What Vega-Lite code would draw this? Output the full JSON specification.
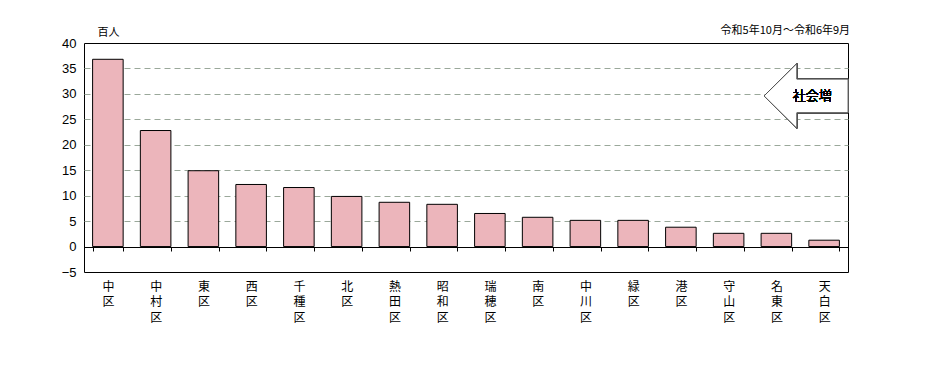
{
  "$schema": "https://vega.github.io/schema/vega-lite/v6.json",
  "autosize": {"type": "none"},
  "padding": {"left": 84, "top": 43, "right": 77, "bottom": 99},
  "width": 764,
  "height": 229,
  "background": "white",
  "config": {
    "view": {"stroke": "black", "strokeWidth": 1},
    "font": "Liberation Sans"
  },
  "title": {
    "text": "令和5年10月～令和6年9月",
    "anchor": "end",
    "font": "Noto Sans CJK JP",
    "fontSize": 11,
    "fontWeight": "normal",
    "color": "black",
    "offset": -10
  },
  "data": {
    "values": [
      {"ward": "中区", "value": 36.8},
      {"ward": "中村区", "value": 22.8},
      {"ward": "東区", "value": 14.9},
      {"ward": "西区", "value": 12.2},
      {"ward": "千種区", "value": 11.6},
      {"ward": "北区", "value": 9.85},
      {"ward": "熱田区", "value": 8.7},
      {"ward": "昭和区", "value": 8.3},
      {"ward": "瑞穂区", "value": 6.5},
      {"ward": "南区", "value": 5.75},
      {"ward": "中川区", "value": 5.15},
      {"ward": "緑区", "value": 5.15},
      {"ward": "港区", "value": 3.8},
      {"ward": "守山区", "value": 2.6},
      {"ward": "名東区", "value": 2.6},
      {"ward": "天白区", "value": 1.25}
    ]
  },
  "encoding": {
    "x": {
      "field": "ward",
      "type": "nominal",
      "sort": null,
      "scale": {"paddingInner": 0.36, "paddingOuter": 0.18},
      "axis": {
        "title": null,
        "orient": "bottom",
        "offset": -25,
        "domainColor": "black",
        "domainWidth": 1,
        "tickBand": "extent",
        "tickColor": "black",
        "tickSize": 4,
        "labelAngle": 0,
        "labelPadding": 30,
        "labelFont": "Noto Sans CJK JP",
        "labelFontSize": 12,
        "labelFontWeight": "normal",
        "labelLineHeight": 15.5,
        "labelColor": "black",
        "labelBaseline": "top",
        "labelExpr": "split(datum.label, '')"
      }
    }
  },
  "layer": [
    {
      "mark": {"type": "bar", "fill": "#ecb5bb", "stroke": "black", "strokeWidth": 1},
      "encoding": {
        "y": {
          "field": "value",
          "type": "quantitative",
          "scale": {"domain": [-5, 40], "nice": false},
          "axis": {
            "values": [-5, 0, 5, 10, 15, 20, 25, 30, 35, 40],
            "tickCount": 20,
            "labelOverlap": false,
            "labelFlush": false,
            "title": "百人",
            "titleAngle": 0,
            "titleFont": "Noto Sans CJK JP",
            "titleFontSize": 11,
            "titleFontWeight": "normal",
            "titleColor": "black",
            "titleAlign": "left",
            "titleBaseline": "middle",
            "titleX": 13,
            "titleY": -11,
            "domain": false,
            "ticks": false,
            "labelPadding": 8,
            "labelFontSize": 13,
            "labelColor": "black",
            "grid": true,
            "gridColor": "#9aa89a",
            "gridDash": [6, 4],
            "gridWidth": 1,
            "gridOpacity": {"condition": {"test": "datum.value == 0 || datum.value == 40 || datum.value == -5", "value": 0}, "value": 1}
          }
        }
      }
    },
    {
      "mark": {
        "type": "point",
        "shape": "M-1.43,0 L-0.65,-0.77 L-0.65,-0.4 L0.571,-0.4 L0.571,0.4 L-0.65,0.4 L-0.65,0.77 Z",
        "size": 7056,
        "filled": true,
        "fill": "white",
        "stroke": "#505050",
        "strokeWidth": 1,
        "opacity": 1
      },
      "encoding": {
        "x": {"datum": "天白区"},
        "y": {"datum": 29.6}
      }
    },
    {
      "mark": {
        "type": "text",
        "text": "社会増",
        "font": "Noto Sans CJK JP",
        "fontSize": 13,
        "fontWeight": 300,
        "color": "black",
        "dx": -12,
        "align": "center",
        "baseline": "middle"
      },
      "encoding": {
        "x": {"datum": "天白区"},
        "y": {"datum": 29.6}
      }
    }
  ]
}
